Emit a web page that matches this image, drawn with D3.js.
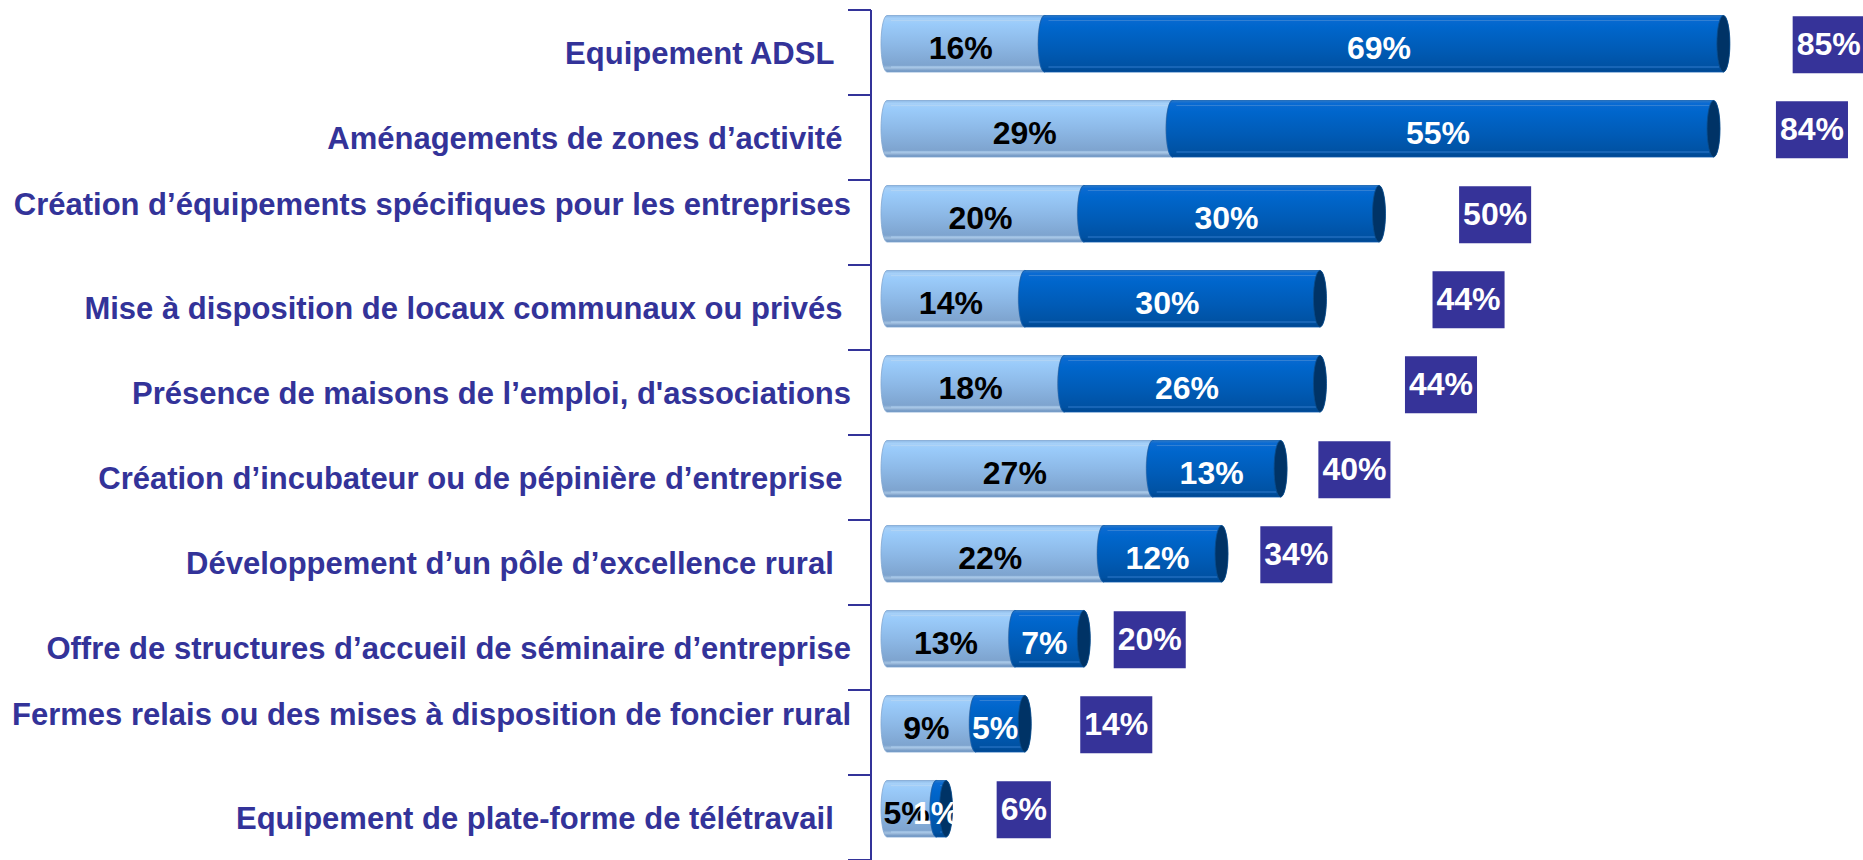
<!DOCTYPE html>
<meta charset="utf-8">
<style>
body { margin: 0; background: #fff; }
svg { display: block; }
text { font-family: "Liberation Sans", Arial, sans-serif; font-weight: bold; }
.cat { fill: #333399; font-size: 31px; white-space: pre; }
.val { font-size: 32px; }
.tot { font-size: 32px; fill: #fff; }
</style>
<svg width="1863" height="860"></svg>
<script src="https://cdn.jsdelivr.net/npm/d3@7"></script>
<script>
// categories, top to bottom (trailing spaces / line break kept as in the source labels)
var categories = [
  "Equipement ADSL  ",
  "Aménagements de zones d’activité ",
  "Création d’équipements spécifiques pour les entreprises\n",
  "Mise à disposition de locaux communaux ou privés ",
  "Présence de maisons de l’emploi, d'associations",
  "Création d’incubateur ou de pépinière d’entreprise ",
  "Développement d’un pôle d’excellence rural  ",
  "Offre de structures d’accueil de séminaire d’entreprise",
  "Fermes relais ou des mises à disposition de foncier rural\n",
  "Equipement de plate-forme de télétravail  "
]
var lightValues = [16, 29, 20, 14, 18, 27, 22, 13, 9, 5]
var darkValues  = [69, 55, 30, 30, 26, 13, 12, 7, 5, 1]
var totals      = [85, 84, 50, 44, 44, 40, 34, 20, 14, 6]
// where the total boxes sit, in value units (hand placed in the original)
var totalLabelAt = [95.7, 94.0, 61.8, 59.1, 56.3, 47.5, 41.6, 26.7, 23.3, 13.9]

var svg = d3.select("svg")

var x = d3.scaleLinear().domain([0, 100]).range([887, 1871])
var y = d3.scaleBand().domain(d3.range(categories.length)).range([10, 860]).paddingInner(0)

var barOff = 5.5, barH = 56.5, rx = 6

// gradients
var defs = svg.append("defs")
function grad(id, stops){
  var g = defs.append("linearGradient").attr("id", id)
    .attr("x1", 0).attr("y1", 0).attr("x2", 0).attr("y2", 1)
  stops.forEach(function(s){ g.append("stop").attr("offset", s[0]).attr("stop-color", s[1]) })
}
grad("gLight", [[0, "#8DB9E6"], [0.05, "#A6D0F8"], [0.15, "#9ACBFA"], [0.5, "#8DB9E7"], [0.88, "#7EA4CF"], [0.93, "#A3C1E0"], [0.97, "#7B9FC9"], [1, "#6D92BE"]])
grad("gDark", [[0, "#2A78C8"], [0.05, "#0A6AD2"], [0.2, "#0066CC"], [0.6, "#005BB6"], [0.92, "#0051A2"], [1, "#00468E"]])

// axis
var axis = svg.append("g").attr("stroke", "#333399").attr("stroke-width", 2)
axis.append("line").attr("x1", 871).attr("x2", 871).attr("y1", y.range()[0]).attr("y2", y.range()[1])
axis.selectAll(".tick").data(d3.range(categories.length + 1)).enter().append("line")
  .attr("x1", 848).attr("x2", 871)
  .attr("y1", function(i){ return y.range()[0] + i * y.step() })
  .attr("y2", function(i){ return y.range()[0] + i * y.step() })

// category labels
svg.append("g").selectAll("text").data(categories).enter().append("text")
  .attr("class", "cat")
  .attr("text-anchor", "end")
  .each(function(d, i){
    var lines = d.split("\n"), lh = 38
    var cy = y(i) + y.bandwidth() / 2 - (lines.length - 1) * lh / 2
    var t = d3.select(this)
    lines.forEach(function(l, j){
      t.append("tspan").attr("x", 851).attr("y", cy + j * lh + 11).text(l)
    })
  })

// stacked cylinders
var segs = []
categories.forEach(function(c, i){
  segs.push({ i: i, a: 0, b: lightValues[i], v: lightValues[i], kind: "light" })
  segs.push({ i: i, a: lightValues[i], b: lightValues[i] + darkValues[i], v: darkValues[i], kind: "dark" })
})

function body(d){
  var xa = x(d.a), xb = x(d.b), t = y(d.i) + barOff, h = barH, ry = h / 2
  return "M" + xa + "," + t + "L" + xb + "," + t +
    "A" + rx + "," + ry + " 0 0 1 " + xb + "," + (t + h) +
    "L" + xa + "," + (t + h) +
    "A" + rx + "," + ry + " 0 0 1 " + xa + "," + t + "Z"
}

var bars = svg.append("g")
segs.forEach(function(d){
  var g = bars.append("g")
  var t = y(d.i) + barOff
  g.append("path").attr("d", body(d))
    .attr("fill", d.kind == "light" ? "url(#gLight)" : "url(#gDark)")
    .attr("stroke", d.kind == "light" ? "#7FA6D2" : "#0A5CB0").attr("stroke-width", 0.8)
  // faint highlight lines along the body
  ;[5, barH - 5].forEach(function(o){
    g.append("line")
      .attr("x1", x(d.a) + 4).attr("x2", x(d.b) - 4)
      .attr("y1", t + o).attr("y2", t + o)
      .attr("stroke", d.kind == "light" ? "#B5D6F5" : "#3D86D4")
      .attr("stroke-width", 1).attr("opacity", 0.8)
  })
  g.append("ellipse")
    .attr("cx", x(d.b)).attr("cy", t + barH / 2)
    .attr("rx", rx + 0.5).attr("ry", barH / 2)
    .attr("fill", d.kind == "light" ? "#5F87B5" : "#003366")
    .attr("stroke", d.kind == "light" ? "#5F87B5" : "#0A4C8C").attr("stroke-width", 0.8)
})

// values inside segments
svg.append("g").selectAll("text").data(segs).enter().append("text")
  .attr("class", "val")
  .attr("text-anchor", "middle")
  .attr("x", function(d){ return (x(d.a) + x(d.b)) / 2 - 5 })
  .attr("y", function(d){ return y(d.i) + barOff + barH / 2 + 15.5 })
  .attr("fill", function(d){ return d.kind == "light" ? "#000" : "#fff" })
  .text(function(d){ return d.v + "%" })

// totals in boxes
var tg = svg.append("g").selectAll("g").data(totals).enter().append("g")
tg.each(function(d, i){
  var g = d3.select(this)
  var cx = x(totalLabelAt[i]), cy = y(i) + barOff + barH / 2 + 1
  var rect = g.append("rect").attr("fill", "#363399")
  var txt = g.append("text").attr("class", "tot").attr("text-anchor", "middle")
    .attr("x", cx).attr("y", cy + 10).text(d + "%")
  var w = txt.node().getComputedTextLength() + 8
  rect.attr("x", cx - w / 2).attr("y", cy - 28.5).attr("width", w).attr("height", 57)
})
</script>
